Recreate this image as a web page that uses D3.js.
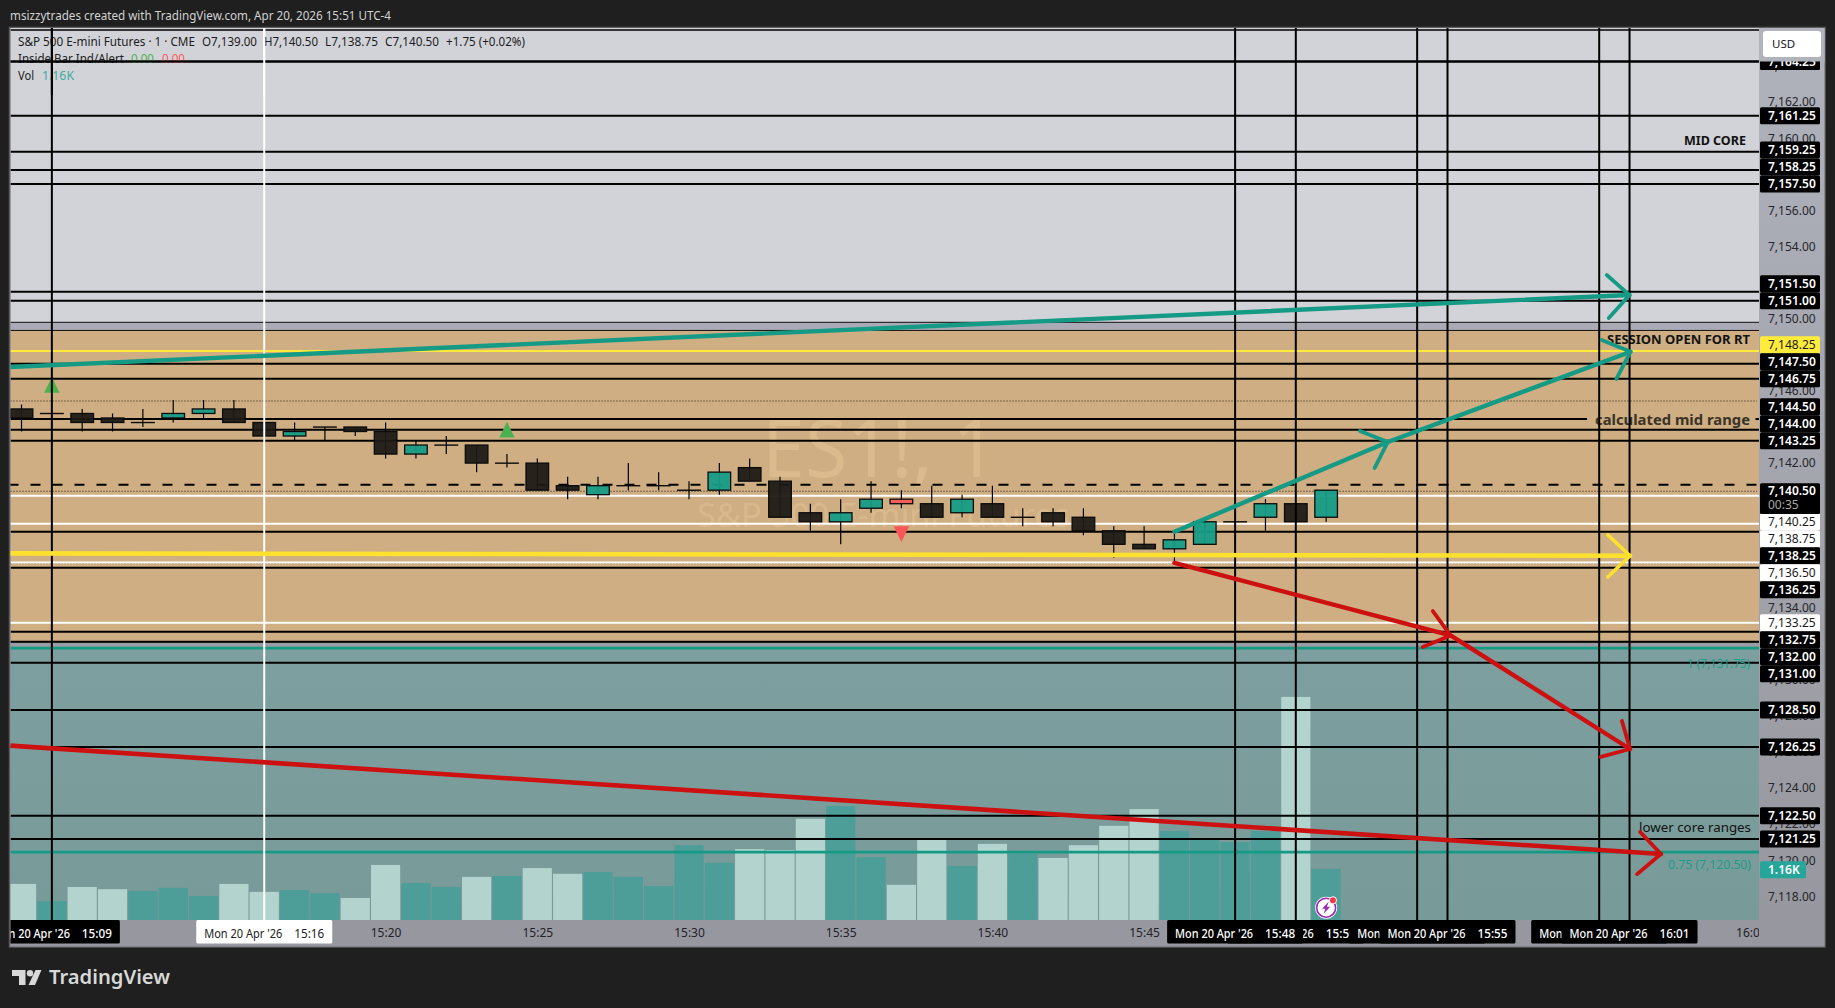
<!DOCTYPE html>
<html><head><meta charset="utf-8">
<script src="https://cdn.jsdelivr.net/npm/d3@7"></script>
<style>
html,body{margin:0;padding:0;background:#1f1f1f;overflow:hidden}
svg{display:block}
text{font-family:"Noto Sans",sans-serif}
</style></head><body>
<svg id="c" width="1835" height="1008"></svg>
<script>
// ---------- data ----------
const candleTimes=["15:08","15:09","15:10","15:11","15:12","15:13","15:14","15:15","15:16","15:17","15:18","15:19","15:20","15:21","15:22","15:23","15:24","15:25","15:26","15:27","15:28","15:29","15:30","15:31","15:32","15:33","15:34","15:35","15:36","15:37","15:38","15:39","15:40","15:41","15:42","15:43","15:44","15:45","15:46","15:47","15:48","15:49","15:50","15:51"];
const opens=[7145,7144.75,7144.75,7144.5,7144.25,7144.5,7144.75,7145,7144.25,7143.5,7144,7144,7143.75,7142.5,7143,7143,7142,7142,7140.75,7140.25,7140.75,7140.75,7140.5,7140.5,7141.75,7141,7139.25,7138.75,7139.5,7140,7139.75,7139.25,7139.75,7139,7139.25,7139,7138.25,7137.5,7137.25,7137.5,7138.75,7139,7139.75,7139];
const highs=[7145.25,7144.75,7145,7144.75,7145,7145.5,7145.5,7145.5,7144.5,7144.25,7144,7144,7144.25,7143.25,7143.5,7143,7142.5,7142.25,7141.25,7141.25,7142,7141.5,7141,7142,7142.25,7141.25,7139.75,7140,7141,7140.5,7140.75,7140.25,7140.75,7139.5,7139.5,7139.5,7138.5,7138.5,7138.25,7139,7138.75,7140,7139.75,7140.5];
const lows=[7143.75,7144.75,7143.75,7143.75,7144,7144.25,7144.5,7144.25,7143.25,7143.25,7143.25,7143.5,7142.25,7142.25,7142.5,7141.5,7141.75,7140.5,7140,7140,7140.5,7140.5,7140,7140.25,7141,7139,7138.25,7137.5,7139.25,7139.5,7139,7139,7139,7138.5,7138.5,7138,7136.75,7137.25,7136.5,7137.5,7138.75,7138.25,7138.75,7138.75];
const closes=[7144.5,7144.75,7144.25,7144.25,7144.25,7144.75,7145,7144.25,7143.5,7143.75,7144,7143.75,7142.5,7143,7143,7142,7142,7140.5,7140.5,7140.75,7140.75,7140.75,7140.5,7141.5,7141,7139,7138.75,7139.25,7140,7139.75,7139,7140,7139,7139,7138.75,7138.25,7137.5,7137.25,7137.75,7138.75,7138.75,7139.75,7138.75,7140.5];
const volumesK=[0.82,0.43,0.75,0.70,0.66,0.73,0.545,0.82,0.64,0.68,0.61,0.50,1.25,0.84,0.75,0.98,1.00,1.18,1.05,1.09,0.98,0.77,1.70,1.30,1.61,1.59,2.30,2.59,1.43,0.80,1.82,1.23,1.73,1.50,1.41,1.70,2.14,2.52,2.02,1.82,1.77,2.02,5.07,1.16];
const volumeTone=["L","T","L","L","T","T","T","L","L","T","T","L","L","T","T","L","T","L","L","T","T","T","T","T","L","L","L","T","T","L","L","T","L","T","L","L","L","L","T","T","T","T","L","T"];
const insideBarTimes=["15:37"];
const buySignalTimes=["15:09","15:24"], buySignalPrices=[7146.77,7144.29];
const sellSignalTimes=["15:37"], sellSignalPrices=[7137.63];

const levelPrices=[7166,7164.25,7161.25,7159.25,7158.24,7157.46,7151.5,7151,7148.21,7147.5,7146.68,7144.44,7143.85,7143.24,7140.19,7138.64,7138.2,7136.5,7136.2,7133.16,7132.66,7132.1,7130.94,7128.32,7126.27,7122.46,7121.18];
const levelLabels=["","7,164.25","7,161.25","7,159.25","7,158.25","7,157.50","7,151.50","7,151.00","7,148.25","7,147.50","7,146.75","7,144.50","7,144.00","7,143.25","7,140.25","7,138.75","7,138.25","7,136.50","7,136.25","7,133.25","7,132.75","7,132.00","7,131.00","7,128.50","7,126.25","7,122.50","7,121.25"];
const levelKinds=["k","k","k","k","k","k","k","k","y","k","k","k","k","k","w","w","k","w","k","w","k","k","k","k","k","k","k"];
const fibPrices=[7131.75,7120.45];
const fibLabels=["1 (7,131.75)","0.75 (7,120.50)"];
const dottedPrices=[7145.44,7140.44,7136.45];
const dashedPrice=7140.8;
const lastPrice=7140.5, lastPriceLabel="7,140.50", countdown="00:35", lastVolumeLabel="1.16K";
const priceTicks=[7118,7120,7122,7124,7126,7128,7130,7132,7134,7136,7138,7140,7142,7144,7146,7148,7150,7152,7154,7156,7158,7160,7162,7164];
const timeTicks=["15:10","15:15","15:20","15:25","15:30","15:35","15:40","15:45","15:50","15:55","16:00","16:05"];
const blackVerticals=["15:09","15:48","15:50","15:54","15:55","16:00","16:01"];
const whiteVertical="15:16";
const timeBoxOrder=["15:09","15:50","15:48","15:54","15:55","16:00","16:01"];
// drawn arrows: [minutes past 15:00, price]
const tealLong=[[7.6,7147.32],[61.0,7151.31]], tealLongHead=[[60.25,7152.42],[61.0,7151.31],[60.32,7150.04]];
const tealRise=[[46,7138.2],[53.04,7143.17],[61.04,7148.17]];
const tealRiseHeadA=[[52.12,7143.78],[53.04,7143.17],[52.61,7141.73]], tealRiseHeadB=[[60.09,7148.82],[61.04,7148.17],[60.58,7146.66]];
const yellowArrow=[[7.62,7137.0],[61.02,7136.87]], yellowHead=[[60.29,7138.02],[61.02,7136.87],[60.29,7135.69]];
const redDrop=[[46,7136.47],[55.11,7132.45],[61.02,7126.16]];
const redHeadA=[[54.52,7133.8],[55.11,7132.45],[54.19,7131.81]], redHeadB=[[60.75,7127.71],[61.02,7126.16],[60.06,7125.72]];
const redLong=[[7.62,7126.35],[62.04,7120.34]], redLongHead=[[61.35,7121.56],[62.04,7120.34],[61.25,7119.23]];
// background zones: [top price, bottom price]
const zonePrices=[[7167,7149.8],[7149.8,7149.35],[7149.35,7132.1],[7132.1,7131.75],[7131.75,7114]];
const midRangeGapMinutes=[59.6,65.16];

// ---------- layout ----------
const W=1835,H=1008, L=10.5,R=1759,T=28,B=920, AX=1825, TB=947;
const day=s=>{const [h,m]=s.split(":").map(Number);return new Date(2026,3,20,h,m)};
const fromMin=m=>new Date(2026,3,20,15,0,m*60);
const x=d3.scaleTime().domain([day("15:20"),day("16:05")]).range([385.6,1750.9]);
const y=d3.scaleLinear().domain([7150,7118]).range([318.7,896.3]);
const v=d3.scaleLinear().domain([0,1]).range([B,B-44]);
const BLACK="#000",TEAL="#149a85",RED="#cd1010",YEL="#fce22e";
const svg=d3.select("#c");
const defs=svg.append("defs");
const clip=(id,a,b,c,d)=>defs.append("clipPath").attr("id",id).append("rect").attr("x",a).attr("y",b).attr("width",c-a).attr("height",d-b);
clip("pane",L,T,R,B); clip("timeclip",L,B,R,TB); clip("axisclip",R,T,AX,B);
const gr=(id,s,e)=>{const g=defs.append("linearGradient").attr("id",id).attr("x1",0).attr("x2",0).attr("y1",0).attr("y2",1);g.append("stop").attr("offset",0).attr("stop-color",s);g.append("stop").attr("offset",1).attr("stop-color",e)};
gr("axisg","#b0b2bc","#97989f");
gr("tealg","#7d9f9f","#779997");
const rect=(g,a,b,c,d,f)=>g.append("rect").attr("x",a).attr("y",b).attr("width",c-a).attr("height",d-b).attr("fill",f);

// frame + axes background
svg.append("rect").attr("x",9.5).attr("y",27.5).attr("width",AX-9.5).attr("height",TB-27.5).attr("fill","#97989f").attr("stroke","#5c5c60").attr("stroke-width",1.5);
rect(svg,R,T,AX-.5,B,"url(#axisg)");
rect(svg,L,B,AX-.5,TB-.5,"#97989f");

// pane
const pane=svg.append("g").attr("clip-path","url(#pane)");
const zoneFill=["#d2d3d8","#aaabb6","#ceae82","#9a9da3","url(#tealg)"];
pane.selectAll(".zone").data(zonePrices).join("rect").attr("class","zone")
  .attr("x",L).attr("width",R-L).attr("y",d=>y(d[0])).attr("height",d=>y(d[1])-y(d[0]))
  .attr("fill",(d,i)=>zoneFill[i]);
// watermark
pane.append("text").text("ES1!, 1").attr("x",762).attr("y",477).attr("font-size",80).attr("fill","#dbbb8e").attr("textLength",235).attr("lengthAdjust","spacingAndGlyphs");
pane.append("text").text("S&P 500 E-mini Futures").attr("x",697).attr("y",527).attr("font-size",33).attr("fill","#d9b98c").attr("textLength",373).attr("lengthAdjust","spacingAndGlyphs");

// volume
const candles=candleTimes.map((t,i)=>({t:day(t),s:t,o:opens[i],h:highs[i],l:lows[i],c:closes[i],v:volumesK[i],tone:volumeTone[i]}));
pane.selectAll(".vol").data(candles).join("rect").attr("class","vol")
  .attr("x",d=>x(d.t)-14.6).attr("width",29.2).attr("y",d=>v(d.v)).attr("height",d=>B-v(d.v))
  .attr("fill",d=>d.tone==="L"?"#b3d3ce":"#4d9d98");

// zone edge hairlines
[zonePrices[0][1],zonePrices[1][1],zonePrices[2][1]].forEach(p=>pane.append("line").attr("x1",L).attr("x2",R).attr("y1",y(p)).attr("y2",y(p)).attr("stroke","#111").attr("stroke-width",1));

// dotted and dashed
pane.selectAll(".dot").data(dottedPrices).join("line").attr("x1",L).attr("x2",R-2).attr("y1",d=>y(d)).attr("y2",d=>y(d)).attr("stroke","#1a1a1a").attr("stroke-width",1).attr("stroke-dasharray","1 2");
pane.append("line").attr("x1",L-2).attr("x2",R-2).attr("y1",y(dashedPrice)).attr("y2",y(dashedPrice)).attr("stroke",BLACK).attr("stroke-width",2).attr("stroke-dasharray","10 12");

// horizontal levels
const levels=levelPrices.map((p,i)=>({p,label:levelLabels[i],kind:levelKinds[i]}));
const color={k:BLACK,w:"#fff",y:"#ffe93a"};
levels.forEach(d=>{
  const gap=d.label==="7,144.50"?midRangeGapMinutes:null;
  const seg=gap?[[L,x(fromMin(gap[0]))],[x(fromMin(gap[1])),R]]:[[L,R]];
  seg.forEach(s=>pane.append("line").attr("x1",s[0]).attr("x2",s[1]).attr("y1",y(d.p)).attr("y2",y(d.p)).attr("stroke",color[d.kind]).attr("stroke-width",d.label===""?1.5:2));
});
// fib lines
pane.selectAll(".fib").data(fibPrices).join("line").attr("x1",L).attr("x2",R).attr("y1",d=>y(d)).attr("y2",d=>y(d)).attr("stroke",TEAL).attr("stroke-width",2.6);

// candles
const cg=pane.append("g");
cg.selectAll(".wick").data(candles).join("line").attr("x1",d=>x(d.t)).attr("x2",d=>x(d.t)).attr("y1",d=>y(d.h)).attr("y2",d=>y(d.l)).attr("stroke","#000").attr("stroke-width",1.2);
cg.selectAll(".body").data(candles).join("rect").attr("x",d=>x(d.t)-11.3).attr("width",22.6)
  .attr("y",d=>y(Math.max(d.o,d.c))).attr("height",d=>Math.max(Math.abs(y(d.o)-y(d.c)),.1))
  .attr("fill",d=>insideBarTimes.includes(d.s)?"#f85a5a":(d.c>d.o?"#169c87":"#1e1a16")).attr("fill-opacity",.95)
  .attr("stroke","#0c0c0c").attr("stroke-width",1.3);

// signals
const tri=(g,xx,yy,dir,col)=>g.append("path").attr("d",`M${xx},${yy}L${xx-7.7},${yy+dir*15.7}L${xx+7.7},${yy+dir*15.7}Z`).attr("fill",col);
buySignalTimes.forEach((t,i)=>tri(pane,x(day(t)),y(buySignalPrices[i]),1,"#4caf50"));
sellSignalTimes.forEach((t,i)=>tri(pane,x(day(t)),y(sellSignalPrices[i]),-1,"#f95757"));

// pane texts
const note=(s,a,b,fs,w,col,wd)=>pane.append("text").text(s).attr("x",a).attr("y",b).attr("font-size",fs).attr("font-weight",wd).attr("fill",col).attr("textLength",w).attr("lengthAdjust","spacingAndGlyphs");
note("MID CORE",1684,144.5,12.5,62,"#111",700);
note("SESSION OPEN FOR RT",1607,344,13,143,"#141414",700);
note("calculated mid range",1595,424.5,14,155,"#3a3326",700);
note("lower core ranges",1639,831.5,13,112,"#111",400);
note(fibLabels[0],1687,667.5,13,63,"#1a9e8a",400);
note(fibLabels[1],1668,868.5,13,83,"#1a9e8a",400);

// vertical lines
pane.selectAll(".vline").data(blackVerticals).join("line").attr("x1",d=>x(day(d))).attr("x2",d=>x(day(d))).attr("y1",T).attr("y2",B).attr("stroke",BLACK).attr("stroke-width",2);
pane.append("line").attr("x1",x(day(whiteVertical))).attr("x2",x(day(whiteVertical))).attr("y1",T).attr("y2",B).attr("stroke","#fff").attr("stroke-width",2);

// drawn arrows
const ln=d3.line().x(d=>x(fromMin(d[0]))).y(d=>y(d[1]));
const stroke=(pts,col,w)=>pane.append("path").attr("d",ln(pts)).attr("fill","none").attr("stroke",col).attr("stroke-width",w).attr("stroke-linecap","round").attr("stroke-linejoin","round");
stroke(yellowArrow,YEL,4.6);stroke(yellowHead,YEL,3.6);
stroke(tealLong,TEAL,4.4);stroke(tealLongHead,TEAL,3.8);
stroke(tealRise,TEAL,4.4);stroke(tealRiseHeadA,TEAL,3.8);stroke(tealRiseHeadB,TEAL,3.8);
stroke(redDrop,RED,4.4);stroke(redHeadA,RED,3.8);stroke(redHeadB,RED,3.8);
stroke(redLong,RED,4.6);stroke(redLongHead,RED,3.8);

// legend
const leg=(s,a,b,w,col)=>svg.append("text").text(s).attr("x",a).attr("y",b).attr("font-size",12.5).attr("fill",col).attr("textLength",w).attr("lengthAdjust","spacingAndGlyphs");
const ink="#1c1c22";
leg("S&P 500 E-mini Futures · 1 · CME",18,46,177,ink);
leg("O7,139.00",202,46,55,ink);leg("H7,140.50",264,46,54,ink);leg("L7,138.75",325,46,53,ink);leg("C7,140.50",385,46,54,ink);leg("+1.75 (+0.02%)",446,46,79,ink);
leg("Inside Bar Ind/Alert",18,63,106,ink);leg("0.00",131,63,23,"#4caf50");leg("0.00",162,63,23,"#f85a5a");
leg("Vol",18,80,16,ink);leg("1.16K",42,80,32,"#3fa99f");
// legend sits under the top level line
svg.append("line").attr("x1",L).attr("x2",R).attr("y1",y(7164.25)).attr("y2",y(7164.25)).attr("stroke",BLACK).attr("stroke-width",2);
svg.append("line").attr("x1",x(day("15:09"))).attr("x2",x(day("15:09"))).attr("y1",T).attr("y2",95).attr("stroke",BLACK).attr("stroke-width",2);
svg.append("line").attr("x1",x(day("15:16"))).attr("x2",x(day("15:16"))).attr("y1",T).attr("y2",95).attr("stroke","#fff").attr("stroke-width",2);

// price axis
const yAxis=d3.axisRight(y).tickValues(priceTicks).tickSize(0).tickPadding(9).tickFormat(d3.format(",.2f"));
const yg=svg.append("g").attr("transform",`translate(${R},0)`).call(yAxis);
yg.select(".domain").remove();
yg.selectAll("text").attr("font-family",'"Noto Sans",sans-serif').attr("font-size",12).attr("fill","#26262c");

// price labels, stacked above and below the live price label
const BOXH=17;
const lab=levels.filter(d=>d.label).map(d=>({...d,cy:y(d.p)})).sort((a,b)=>a.cy-b.cy);
const mainTop=483.3, mainBot=514;
const above=lab.filter(d=>d.cy<mainTop), below=lab.filter(d=>d.cy>=mainTop);
for(let i=above.length-2;i>=0;i--) above[i].cy=Math.min(above[i].cy,above[i+1].cy-BOXH);
let prev=mainBot+7.7-BOXH;
below.forEach(d=>{d.cy=Math.max(d.cy,prev+BOXH);prev=d.cy});
const lg=svg.append("g");
const boxFill={k:"#000",w:"#fff",y:"#ffeb3b"}, boxText={k:"#fff",w:"#1c1c22",y:"#1c1c22"};
lab.forEach(d=>{
  lg.append("rect").attr("x",1760).attr("y",d.cy-BOXH/2).attr("width",60).attr("height",BOXH).attr("rx",1.5).attr("fill",boxFill[d.kind]);
  lg.append("text").text(d.label).attr("x",1768).attr("y",d.cy+4.4).attr("font-size",12).attr("font-weight",d.kind==="k"?600:400).attr("fill",boxText[d.kind]);
});
lg.append("rect").attr("x",1760).attr("y",mainTop).attr("width",60).attr("height",mainBot-mainTop).attr("rx",1.5).attr("fill","#000");
lg.append("text").text(lastPriceLabel).attr("x",1768).attr("y",y(lastPrice)+4.4).attr("font-size",12).attr("font-weight",600).attr("fill","#fff");
lg.append("text").text(countdown).attr("x",1768).attr("y",509).attr("font-size",12).attr("fill","#a8a8a8");
lg.append("rect").attr("x",1760).attr("y",861.3).attr("width",46).attr("height",BOXH).attr("rx",1.5).attr("fill","#26a69a");
lg.append("text").text(lastVolumeLabel).attr("x",1768).attr("y",874.3).attr("font-size",12).attr("font-weight",600).attr("fill","#fff");
// USD button, with the strip behind it that cuts off the top label
rect(svg,1759.5,28.5,1824.5,61.5,"#b0b2bc");
svg.append("rect").attr("x",1763).attr("y",31).attr("width",58).attr("height",26).attr("rx",3).attr("fill","#fff");
svg.append("text").text("USD").attr("x",1772).attr("y",48).attr("font-size",11.5).attr("fill","#16161c");

// time axis
const timeAxis=d3.axisBottom(x).tickValues(timeTicks.map(day)).tickSize(0).tickPadding(8).tickFormat(d3.timeFormat("%H:%M"));
const xgWrap=svg.append("g").attr("clip-path","url(#timeclip)");
const xg=xgWrap.append("g").attr("transform",`translate(0,${B})`).call(timeAxis);
xg.select(".domain").remove();
xg.selectAll("text").attr("font-family",'"Noto Sans",sans-serif').attr("font-size",12).attr("fill","#222228");
const tbox=(t,bg,fg,wd)=>{
  const c=x(day(t)),g=xgWrap.append("g");
  g.append("rect").attr("x",c-68).attr("y",B).attr("width",136).attr("height",23.5).attr("rx",1.5).attr("fill",bg);
  g.append("text").text("Mon 20 Apr '26").attr("x",c-60).attr("y",B+18).attr("font-size",12).attr("font-weight",wd).attr("fill",fg).attr("textLength",78).attr("lengthAdjust","spacingAndGlyphs");
  g.append("text").text(t).attr("x",c+60).attr("y",B+18).attr("text-anchor","end").attr("font-size",12).attr("font-weight",wd).attr("fill",fg).attr("textLength",30).attr("lengthAdjust","spacingAndGlyphs");
};
timeBoxOrder.forEach(t=>tbox(t,"#000","#fff",500));
tbox(whiteVertical,"#fff","#222",400);

// alert icon on the last volume bar
const ix=x(day("15:51")),ic=svg.append("g").attr("transform",`translate(${ix},907.7)`);
ic.append("circle").attr("r",11).attr("fill","#fff");
ic.append("circle").attr("r",9.5).attr("fill","#fff").attr("stroke","#9c27b0").attr("stroke-width",1.6);
ic.append("path").attr("d","M2.5,-6L-4,1H-0.8L-2.5,6L4,-1H0.8Z").attr("fill","#9c27b0");
ic.append("circle").attr("cx",6.8).attr("cy",-7.4).attr("r",3.6).attr("fill","#f23645").attr("stroke","#fff").attr("stroke-width",1);

// header and logo
svg.append("text").text("msizzytrades created with TradingView.com, Apr 20, 2026 15:51 UTC-4").attr("x",10).attr("y",19.5).attr("font-size",12.5).attr("fill","#d2d2d2").attr("textLength",381).attr("lengthAdjust","spacingAndGlyphs");
const logo=svg.append("g").attr("transform","translate(12,970)").attr("fill","#d8d8d8");
logo.append("path").attr("d","M0,0H13.5V15H7V6H0Z");
logo.append("circle").attr("cx",18).attr("cy",3.2).attr("r",3.2);
logo.append("path").attr("d","M23.5,0H29.5L23,15H16.5Z");
svg.append("text").text("TradingView").attr("x",49).attr("y",984).attr("font-family","Inter").attr("font-size",20).attr("font-weight",600).attr("fill","#d8d8d8").attr("textLength",121).attr("lengthAdjust","spacingAndGlyphs");
</script>
</body></html>
